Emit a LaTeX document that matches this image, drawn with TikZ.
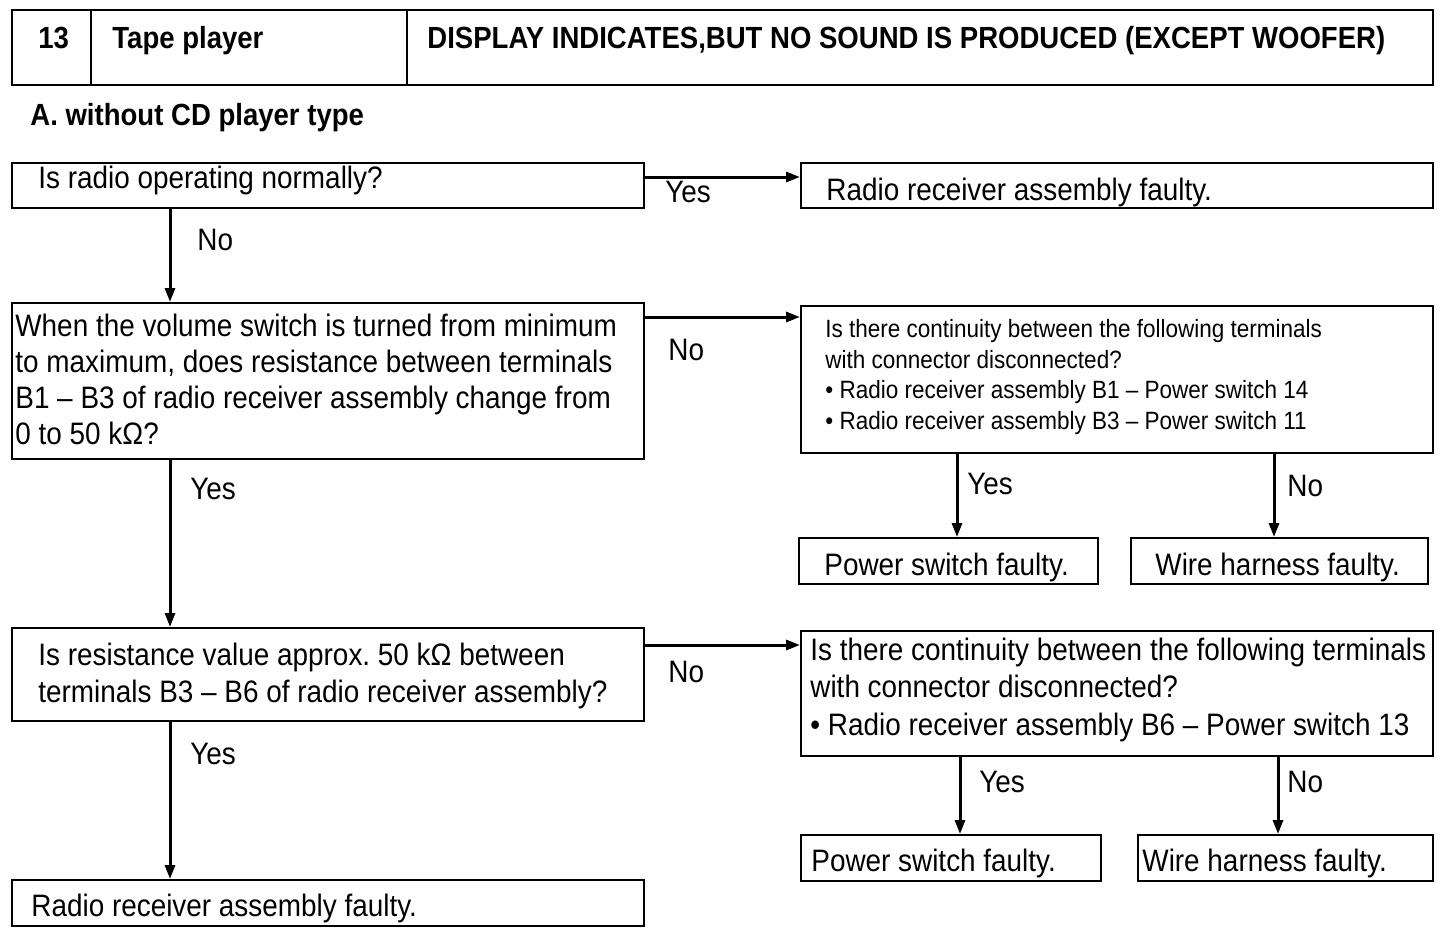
\documentclass[tikz,border=0pt]{standalone}
\usepackage{fontspec}
\setmainfont{Liberation Sans}[FakeStretch=0.9]
\usetikzlibrary{arrows.meta,calc}
\frenchspacing
\begin{document}
\begin{tikzpicture}[x=0.5pt,y=-0.5pt,
  box/.style={draw,line width=1pt,inner sep=0pt,anchor=north west},
  txt/.style={inner sep=0pt,anchor=base west,align=left},
  arr/.style={line width=1.5pt,-{Triangle[length=7pt,width=5pt]}},
  fmain/.style={font=\fontsize{15.5pt}{18pt}\selectfont},
  fbold/.style={font=\fontsize{15.3pt}{18pt}\selectfont\bfseries},
  fsmall/.style={font=\fontsize{12.5pt}{15.25pt}\selectfont}]
\useasboundingbox (0,0) rectangle (1440,932);
% header
\node[box,minimum width=39.5pt,minimum height=37.5pt] (hd1) at (11,9) {};
\node[box,minimum width=158pt,minimum height=37.5pt] (hd2) at (90,9) {};
\node[box,minimum width=513pt,minimum height=37.5pt] (hd3) at (406,9) {};
\node[txt,fbold] (hdt1) at (38,48) {13};
\node[txt,fbold] (hdt2) at (112,48) {Tape player};
\node[txt,fbold] (hdt3) at (427,48) {DISPLAY INDICATES,BUT NO SOUND IS PRODUCED (EXCEPT WOOFER)};
\node[txt,fbold] (sub) at (30,125) {A. without CD player type};
% boxes
\node[box,minimum width=316pt,minimum height=22.5pt] (b1) at (11,162) {};
\node[box,minimum width=316pt,minimum height=22.5pt] (r1) at (800,162) {};
\node[box,minimum width=316pt,minimum height=78pt] (b2) at (11,302) {};
\node[box,minimum width=316pt,minimum height=73.5pt] (r2) at (800,305) {};
\node[box,minimum width=149.5pt,minimum height=23pt] (ps1) at (798,537) {};
\node[box,minimum width=148.5pt,minimum height=23pt] (wh1) at (1130,537) {};
\node[box,minimum width=316pt,minimum height=46.5pt] (b3) at (11,627) {};
\node[box,minimum width=316pt,minimum height=62.5pt] (r3) at (800,630) {};
\node[box,minimum width=150pt,minimum height=23pt] (ps2) at (800,834) {};
\node[box,minimum width=147.5pt,minimum height=23pt] (wh2) at (1137,834) {};
\node[box,minimum width=316pt,minimum height=23pt] (b4) at (11,879) {};
% box texts (multi-line nodes: base = last line)
\node[txt,fmain] (tb1) at (38,188) {Is radio operating normally?};
\node[txt,fmain] (tr1) at (826,200) {Radio receiver assembly faulty.};
\node[txt,fmain] (tb2) at (15,444) {When the volume switch is turned from minimum\\to maximum, does resistance between terminals\\B1 -- B3 of radio receiver assembly change from\\0 to 50 kΩ?};
\node[txt,fsmall] (tr2) at (825,429) {Is there continuity between the following terminals\\with connector disconnected?\\• Radio receiver assembly B1 -- Power switch 14\\• Radio receiver assembly B3 -- Power switch 11};
\node[txt,fmain] (tps1) at (824,575) {Power switch faulty.};
\node[txt,fmain] (twh1) at (1155,575) {Wire harness faulty.};
\node[txt,font=\fontsize{15.5pt}{18.5pt}\selectfont] (tb3) at (38,702) {Is resistance value approx.\ 50 kΩ between\\terminals B3 -- B6 of radio receiver assembly?};
\node[txt,font=\fontsize{15.5pt}{18.75pt}\selectfont] (tr3) at (810,735) {Is there continuity between the following terminals\\with connector disconnected?\\• Radio receiver assembly B6 -- Power switch 13};
\node[txt,fmain] (tps2) at (811,871) {Power switch faulty.};
\node[txt,fmain] (twh2) at (1142,871) {Wire harness faulty.};
\node[txt,fmain] (tb4) at (31,916) {Radio receiver assembly faulty.};
% connectors
\draw[arr] ([yshift=4.25pt]b1.east) -- ([yshift=4.25pt]r1.west);
\draw[arr] ([xshift=79.5pt]b1.south west) -- ([xshift=79.5pt]b2.north west);
\draw[arr] ([yshift=-7.5pt]b2.north east) coordinate (c3) -- (c3 -| r2.west);
\draw[arr] ([xshift=78.5pt]r2.south west) coordinate (c4) -- (c4 |- ps1.north);
\draw[arr] ([xshift=237pt]r2.south west) coordinate (c5) -- (c5 |- wh1.north);
\draw[arr] ([xshift=79.5pt]b2.south west) -- ([xshift=79.5pt]b3.north west);
\draw[arr] ([yshift=-9pt]b3.north east) coordinate (c7) -- (c7 -| r3.west);
\draw[arr] ([xshift=80pt]r3.south west) coordinate (c8) -- (c8 |- ps2.north);
\draw[arr] ([xshift=239pt]r3.south west) coordinate (c9) -- (c9 |- wh2.north);
\draw[arr] ([xshift=79.5pt]b3.south west) -- ([xshift=79.5pt]b4.north west);
% connector labels
\node[txt,fmain] (l1) at (665,202) {Yes};
\node[txt,fmain] (l2) at (197,250) {No};
\node[txt,fmain] (l3) at (668,360) {No};
\node[txt,fmain] (l4) at (967,494) {Yes};
\node[txt,fmain] (l5) at (1287,496) {No};
\node[txt,fmain] (l6) at (190,499) {Yes};
\node[txt,fmain] (l7) at (668,682) {No};
\node[txt,fmain] (l8) at (979,792) {Yes};
\node[txt,fmain] (l9) at (1287,792) {No};
\node[txt,fmain] (l10) at (190,764) {Yes};
\end{tikzpicture}
\end{document}
